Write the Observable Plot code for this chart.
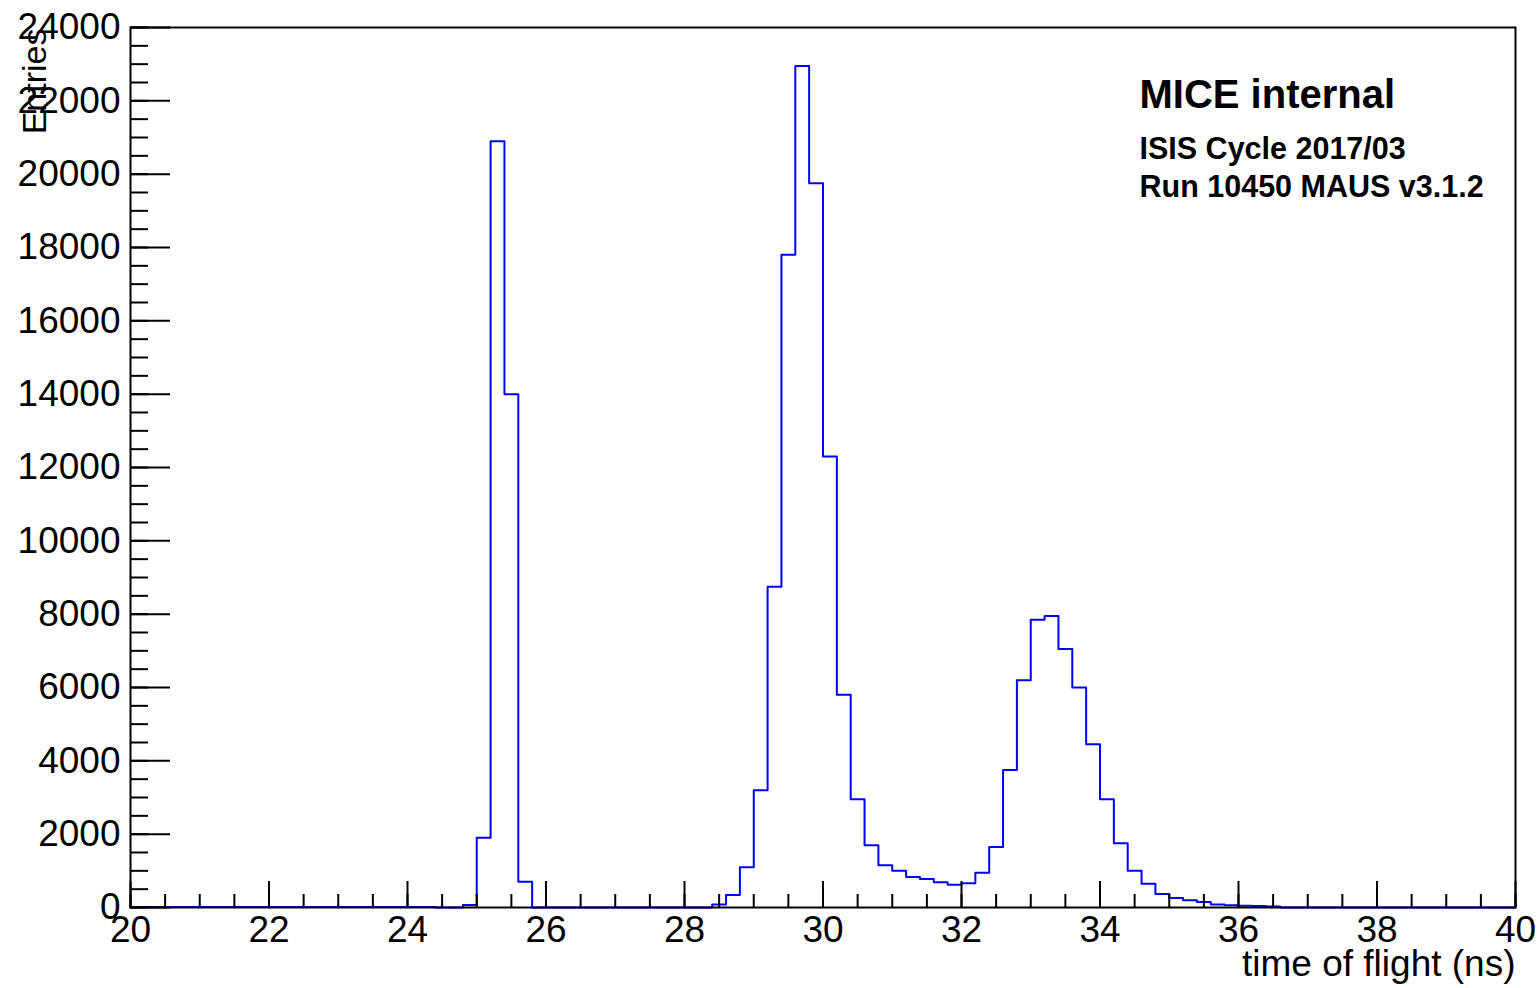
<!DOCTYPE html>
<html><head><meta charset="utf-8">
<script src="https://cdn.jsdelivr.net/npm/d3@7"></script>
<script src="https://cdn.jsdelivr.net/npm/@observablehq/plot@0.6"></script>
<style>body{margin:0;background:#fff;} svg{display:block}</style>
</head><body><div id="chart"></div>
<script>
// Histogram definition: 100 bins of 0.2 ns from 20 to 40 ns
const binStart = 20;
const binWidth = 0.2;
const counts = [
  15,15,15,15,15,15,15,15,15,15, 15,15,15,15,15,15,15,15,15,15, 15,15,   // 20.0 - 24.4
  0,0,70,1900,20900,14000,700,0,                                         // 24.4 - 26.0
  0,0,0,0,0,0,0,0,0,0,0,0,                                               // 26.0 - 28.4
  80,340,1100,3200,8750,17800,22950,19750,12300,5800,                    // 28.4 - 30.4
  2950,1700,1150,1000,830,780,690,620,660,950,                           // 30.4 - 32.4
  1650,3750,6200,7850,7950,7050,6000,4450,2950,1750,                     // 32.4 - 34.4
  1000,650,370,260,200,150,80,60,50,40,30,                               // 34.4 - 36.6
  0,0,0,0,0,0,0,0,0,0,0,0,0,0,0,0,0                                      // 36.6 - 40.0
];
const xMajorTicks = [20,22,24,26,28,30,32,34,36,38,40];
const xMinorTicks = d3.range(20, 40.001, 0.5);
const yMajorTicks = [0,2000,4000,6000,8000,10000,12000,14000,16000,18000,20000,22000,24000];
const yMinorTicks = d3.range(0, 24001, 500);
const xTitle = "time of flight (ns)";
const yTitle = "Entries";
const notes = ["ISIS Cycle 2017/03", "Run 10450 MAUS v3.1.2"];
const headline = "MICE internal";

const hist = counts.map((c, i) => ({x: binStart + i * binWidth, y: c}));
hist.push({x: binStart + counts.length * binWidth, y: counts[counts.length - 1]});

const font = "'Liberation Sans', Arial, Helvetica, sans-serif";
const chart = Plot.plot({
  width: 1537, height: 988,
  marginLeft: 130, marginRight: 22, marginTop: 27, marginBottom: 81,
  x: {domain: [20, 40]},
  y: {domain: [0, 24000]},
  style: {fontFamily: font, background: "white", color: "black"},
  marks: [
    Plot.lineY(hist, {x: "x", y: "y", curve: "step-after", stroke: "#0000ff", strokeWidth: 2}),
    Plot.frame({stroke: "black", strokeWidth: 2}),
    Plot.axisX(xMinorTicks, {tickSize: -13, tickFormat: () => "", label: null, strokeWidth: 2}),
    Plot.axisX(xMajorTicks, {tickSize: -26, tickFormat: () => "", label: null, strokeWidth: 2}),
    Plot.axisX(xMajorTicks, {tickSize: 0, tickPadding: 8, fontSize: 37, label: null, tickFormat: d => String(d)}),
    Plot.axisY(yMinorTicks, {tickSize: -18, tickFormat: () => "", label: null, strokeWidth: 2}),
    Plot.axisY(yMajorTicks, {tickSize: -40, tickFormat: () => "", label: null, strokeWidth: 2}),
    Plot.axisY(yMajorTicks, {tickSize: 0, tickPadding: 10, fontSize: 37, label: null, tickFormat: d => String(d)}),
    Plot.text([yTitle], {frameAnchor: "top-left", rotate: -90, textAnchor: "end", lineAnchor: "bottom", dx: -85, dy: 1, fontSize: 34}),
    Plot.text([xTitle], {frameAnchor: "bottom-right", textAnchor: "end", lineAnchor: "bottom", dx: 0, dy: 68, fontSize: 37}),
    Plot.text([headline], {frameAnchor: "top-left", textAnchor: "start", lineAnchor: "bottom", dx: 1009, dy: 80, fontSize: 40, fontWeight: "bold"}),
    Plot.text([notes[0]], {frameAnchor: "top-left", textAnchor: "start", lineAnchor: "bottom", dx: 1009, dy: 131, fontSize: 30.5, fontWeight: "bold"}),
    Plot.text([notes[1]], {frameAnchor: "top-left", textAnchor: "start", lineAnchor: "bottom", dx: 1009, dy: 169, fontSize: 30.5, fontWeight: "bold"})
  ]
});
document.getElementById("chart").appendChild(chart);
</script>
</body></html>
